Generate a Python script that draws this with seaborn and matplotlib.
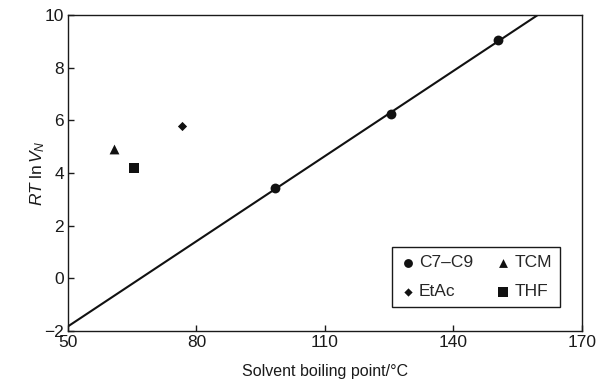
import matplotlib
matplotlib.use("Agg")
import matplotlib.pyplot as plt
import seaborn as sns
import pandas as pd

# Data
alkane_bp = [98.4, 125.5, 150.5]
alkane_rt = [3.43, 6.24, 9.05]
tcm_bp = [60.7]
tcm_rt = [4.91]
etac_bp = [76.7]
etac_rt = [5.77]
thf_bp = [65.5]
thf_rt = [4.19]
x_ticks = [50, 80, 110, 140, 170]
y_ticks = [-2, 0, 2, 4, 6, 8, 10]

sns.set_theme(style="ticks")
plt.rcParams['font.family'] = ['Liberation Sans', 'DejaVu Sans']
plt.rcParams['mathtext.fontset'] = 'custom'
plt.rcParams['mathtext.rm'] = 'Liberation Sans'
plt.rcParams['mathtext.it'] = 'Liberation Sans:italic'

fig = plt.figure(figsize=(5.98, 3.89), dpi=100)
ax = fig.add_axes([68/598, 58/389, 514/598, 316/389])
ax.set_xlim(50, 170)
ax.set_ylim(-2, 10)

ink = '#111111'
alk = pd.DataFrame({'bp': alkane_bp, 'rt': alkane_rt})
sns.regplot(data=alk, x='bp', y='rt', ax=ax, ci=None, truncate=False,
            scatter=False, line_kws=dict(color=ink, lw=1.5))

sns.scatterplot(x=alkane_bp, y=alkane_rt, ax=ax, marker='o', s=50, color=ink,
                edgecolor=ink, linewidth=0, label='C7–C9', zorder=3)
sns.scatterplot(x=etac_bp, y=etac_rt, ax=ax, marker='D', s=22, color=ink,
                edgecolor=ink, linewidth=0, label='EtAc', zorder=3)
sns.scatterplot(x=tcm_bp, y=tcm_rt, ax=ax, marker='^', s=50, color=ink,
                edgecolor=ink, linewidth=0, label='TCM', zorder=3)
sns.scatterplot(x=thf_bp, y=thf_rt, ax=ax, marker='s', s=60, color=ink,
                edgecolor=ink, linewidth=0, label='THF', zorder=3)

ax.set_xlim(50, 170)
ax.set_ylim(-2, 10)
ax.set_xticks(x_ticks)
ax.set_yticks(y_ticks)
ax.set_xlabel('')
ax.set_ylabel('')
ax.set_yticklabels(['\u22122' if v == -2 else str(v) for v in y_ticks])
ax.tick_params(direction='in', length=4, width=1, labelsize=12.5, colors='#1a1a1a',
               top=False, right=False, pad=3)
for sp in ax.spines.values():
    sp.set_visible(True)
    sp.set_color('#1a1a1a')
    sp.set_linewidth(1)

ax.set_xlabel('Solvent boiling point/°C', fontsize=11.5, color='#1a1a1a', labelpad=10)
ax.set_ylabel(r'$RT\;\mathrm{ln}\,V_N$', fontsize=12.5, color='#1a1a1a')
ax.yaxis.set_label_coords(-0.04, 0.5)

leg = ax.legend(ncol=2, loc='lower right', bbox_to_anchor=(0.957, 0.076),
                borderaxespad=0,
                fontsize=12.5, frameon=True, fancybox=False, shadow=False,
                handletextpad=0.2, columnspacing=1.3, handlelength=0.9,
                borderpad=0.45, labelspacing=0.8, markerscale=0.9)
leg.get_frame().set_edgecolor('#1a1a1a')
leg.get_frame().set_linewidth(1)
leg.get_frame().set_alpha(1)

fig.savefig('out.png', dpi=100)
